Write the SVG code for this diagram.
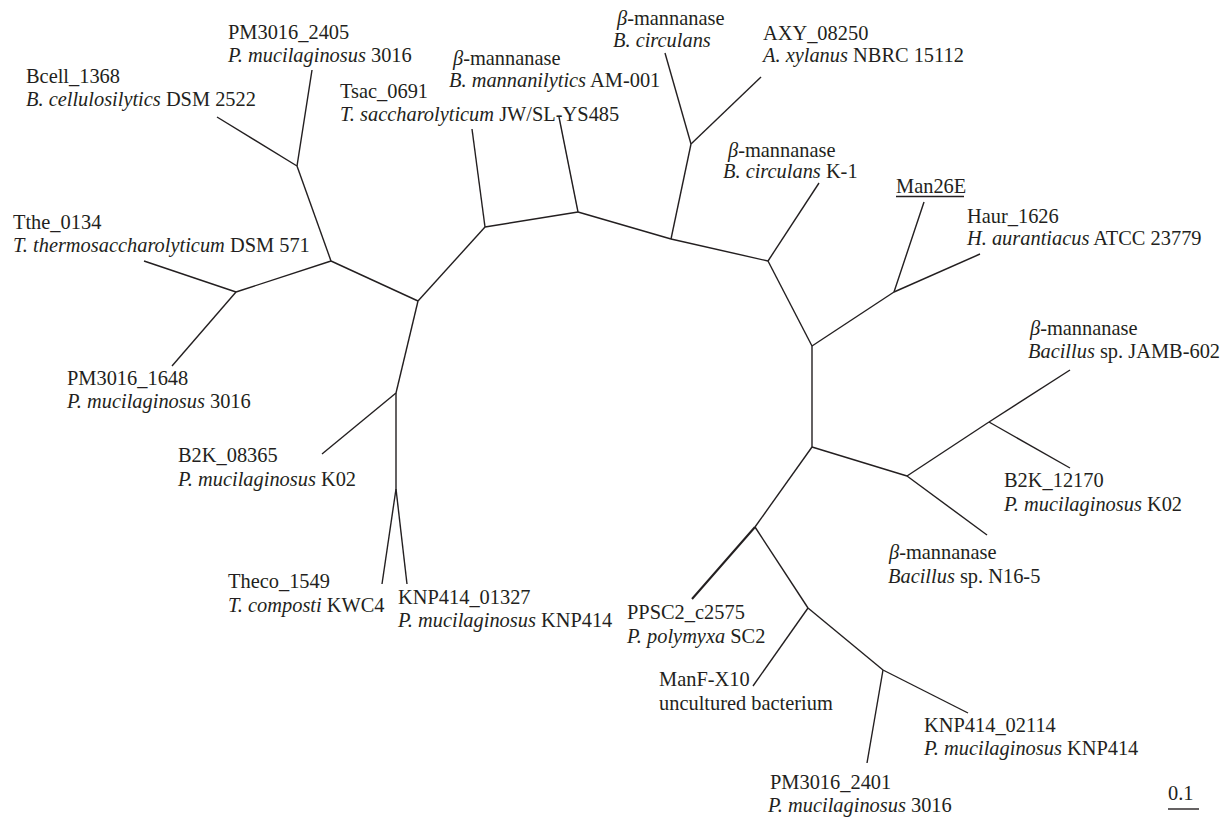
<svg xmlns="http://www.w3.org/2000/svg" width="1222" height="817" viewBox="0 0 1222 817">
<style>
text{font-family:"Liberation Serif","Times New Roman",serif;font-size:20.4px;fill:#231f20}
.i{font-style:italic}
#edges line{stroke:#231f20;stroke-width:1.4;fill:none}
</style>
<rect width="1222" height="817" fill="#fff"/>
<g id="edges">
<line x1="297" y1="166" x2="312" y2="70"/>
<line x1="297" y1="166" x2="217" y2="117"/>
<line x1="297" y1="166" x2="331" y2="261"/>
<line x1="331" y1="261" x2="236" y2="292"/>
<line x1="236" y1="292" x2="144" y2="261"/>
<line x1="236" y1="292" x2="172" y2="366"/>
<line x1="331" y1="261" x2="418" y2="301"/>
<line x1="418" y1="301" x2="485" y2="227"/>
<line x1="418" y1="301" x2="396" y2="393"/>
<line x1="396" y1="393" x2="322" y2="454"/>
<line x1="396" y1="393" x2="396" y2="489"/>
<line x1="396" y1="489" x2="382" y2="584"/>
<line x1="396" y1="489" x2="407" y2="584"/>
<line x1="485" y1="227" x2="472" y2="129"/>
<line x1="485" y1="227" x2="578" y2="212"/>
<line x1="578" y1="212" x2="559" y2="117"/>
<line x1="578" y1="212" x2="671" y2="239"/>
<line x1="671" y1="239" x2="691" y2="144"/>
<line x1="691" y1="144" x2="665" y2="53"/>
<line x1="691" y1="144" x2="761" y2="77"/>
<line x1="671" y1="239" x2="768" y2="261"/>
<line x1="768" y1="261" x2="819" y2="183"/>
<line x1="768" y1="261" x2="812" y2="346"/>
<line x1="812" y1="346" x2="894" y2="292"/>
<line x1="894" y1="292" x2="924" y2="202"/>
<line x1="894" y1="292" x2="980" y2="254"/>
<line x1="812" y1="346" x2="812" y2="447"/>
<line x1="812" y1="447" x2="907" y2="476"/>
<line x1="907" y1="476" x2="989" y2="422"/>
<line x1="989" y1="422" x2="1070" y2="370"/>
<line x1="989" y1="422" x2="1070" y2="468"/>
<line x1="907" y1="476" x2="987" y2="535"/>
<line x1="812" y1="447" x2="755" y2="527"/>
<line x1="755" y1="527" x2="692" y2="599" style="stroke-width:2"/>
<line x1="755" y1="527" x2="808" y2="608"/>
<line x1="808" y1="608" x2="753" y2="686"/>
<line x1="808" y1="608" x2="883" y2="670"/>
<line x1="883" y1="670" x2="867" y2="763"/>
<line x1="883" y1="670" x2="968" y2="713"/>
</g>
<g id="n-pm3016-2405"><text x="228" y="39">PM3016_2405</text><text x="228" y="62"><tspan class="i">P. mucilaginosus</tspan> 3016</text></g>
<g id="n-bcell-1368"><text x="26" y="83">Bcell_1368</text><text x="26" y="106"><tspan class="i">B. cellulosilytics</tspan> DSM 2522</text></g>
<g id="n-tthe-0134"><text x="13" y="229">Tthe_0134</text><text x="13" y="252"><tspan class="i">T. thermosaccharolyticum</tspan> DSM 571</text></g>
<g id="n-pm3016-1648"><text x="67" y="385">PM3016_1648</text><text x="67" y="408"><tspan class="i">P. mucilaginosus</tspan> 3016</text></g>
<g id="n-b2k-08365"><text x="178" y="462">B2K_08365</text><text x="178" y="486"><tspan class="i">P. mucilaginosus</tspan> K02</text></g>
<g id="n-theco-1549"><text x="228" y="588">Theco_1549</text><text x="228" y="612"><tspan class="i">T. composti</tspan> KWC4</text></g>
<g id="n-knp414-01327"><text x="398" y="604">KNP414_01327</text><text x="398" y="627"><tspan class="i">P. mucilaginosus</tspan> KNP414</text></g>
<g id="n-tsac-0691"><text x="340" y="98">Tsac_0691</text><text x="340" y="121"><tspan class="i">T. saccharolyticum</tspan> JW/SL-YS485</text></g>
<g id="n-man-mannanilytics"><text x="453" y="65"><tspan class="i">β</tspan>-mannanase</text><text x="449" y="87"><tspan class="i">B. mannanilytics</tspan> AM-001</text></g>
<g id="n-man-circulans"><text x="617" y="25"><tspan class="i">β</tspan>-mannanase</text><text x="613" y="47"><tspan class="i">B. circulans</tspan></text></g>
<g id="n-axy-08250"><text x="763" y="40">AXY_08250</text><text x="763" y="62"><tspan class="i">A. xylanus</tspan> NBRC 15112</text></g>
<g id="n-man-circulans-k1"><text x="728" y="157"><tspan class="i">β</tspan>-mannanase</text><text x="723" y="178"><tspan class="i">B. circulans</tspan> K-1</text></g>
<g id="n-man26e"><text x="896" y="193">Man26E</text><line x1="896" y1="196.5" x2="964" y2="196.5" stroke="#231f20" stroke-width="1.3"/></g>
<g id="n-haur-1626"><text x="967" y="223">Haur_1626</text><text x="967" y="245"><tspan class="i">H. aurantiacus</tspan> ATCC 23779</text></g>
<g id="n-man-jamb602"><text x="1030" y="335"><tspan class="i">β</tspan>-mannanase</text><text x="1028" y="358"><tspan class="i">Bacillus</tspan> sp. JAMB-602</text></g>
<g id="n-b2k-12170"><text x="1004" y="487">B2K_12170</text><text x="1004" y="511"><tspan class="i">P. mucilaginosus</tspan> K02</text></g>
<g id="n-man-n16-5"><text x="889" y="559"><tspan class="i">β</tspan>-mannanase</text><text x="888" y="583"><tspan class="i">Bacillus</tspan> sp. N16-5</text></g>
<g id="n-ppsc2-c2575"><text x="627" y="619">PPSC2_c2575</text><text x="627" y="643"><tspan class="i">P. polymyxa</tspan> SC2</text></g>
<g id="n-manf-x10"><text x="659" y="686">ManF-X10</text><text x="659" y="710">uncultured bacterium</text></g>
<g id="n-knp414-02114"><text x="924" y="732">KNP414_02114</text><text x="924" y="755"><tspan class="i">P. mucilaginosus</tspan> KNP414</text></g>
<g id="n-pm3016-2401"><text x="770" y="789">PM3016_2401</text><text x="768" y="812"><tspan class="i">P. mucilaginosus</tspan> 3016</text></g>
<g id="scale"><text x="1168" y="800">0.1</text><line x1="1168" y1="809" x2="1199" y2="809" stroke="#231f20" stroke-width="1.4"/></g>
</svg>
